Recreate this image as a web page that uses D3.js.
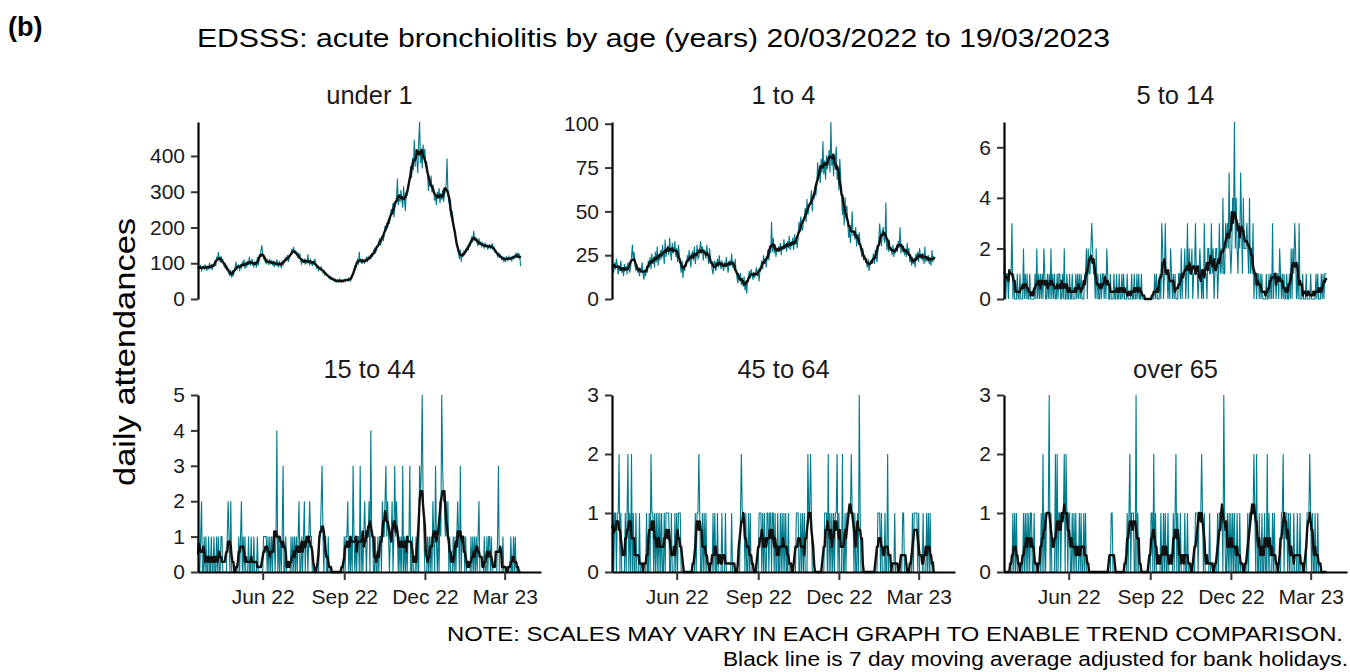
<!DOCTYPE html>
<html>
<head>
<meta charset="utf-8">
<script src="https://cdn.jsdelivr.net/npm/d3@7"></script>
<style>
  body { margin: 0; background: #fff; }
  svg { display: block; font-family: "Liberation Sans", Arial, sans-serif; }
</style>
</head>
<body>
<script>
/* daily EDSSS attendances, 20/03/2022 .. 19/03/2023 (365 days, one row per week) */

const startDate = new Date(Date.UTC(2022, 2, 20));

const panelNames = ["under 1", "1 to 4", "5 to 14", "15 to 44", "45 to 64", "over 65"];

const under1 = [
  92, 84, 88, 95, 80, 86, 91,
  83, 97, 88, 79, 90, 85, 102,
  86, 93, 81, 98, 89, 105, 92,
  118, 108, 131, 114, 102, 120, 106,
  110, 97, 88, 100, 84, 93, 79,
  72, 64, 81, 60, 70, 66, 77,
  92, 104, 81, 89, 97, 78, 95,
  88, 102, 96, 110, 85, 97, 91,
  107, 96, 118, 93, 101, 112, 95,
  90, 104, 99, 88, 117, 94, 108,
  121, 135, 150, 127, 113, 118, 102,
  99, 111, 104, 95, 112, 100, 106,
  97, 107, 89, 102, 96, 111, 93,
  90, 104, 99, 86, 108, 95, 102,
  106, 118, 110, 123, 104, 115, 120,
  126, 140, 131, 145, 128, 136, 124,
  119, 130, 112, 127, 105, 98, 110,
  104, 112, 96, 108, 99, 125, 101,
  96, 110, 104, 92, 107, 100, 113,
  95, 86, 91, 80, 88, 84, 90,
  82, 73, 79, 68, 74, 70, 66,
  64, 58, 62, 55, 60, 57, 52,
  50, 55, 48, 53, 47, 51, 56,
  49, 46, 52, 48, 55, 50, 53,
  55, 51, 58, 54, 50, 56, 60,
  68, 77, 95, 88, 103, 110, 96,
  132, 102, 109, 98, 112, 104, 100,
  108, 115, 103, 117, 110, 122, 112,
  125, 118, 133, 140, 127, 136, 145,
  150, 158, 171, 149, 165, 178, 162,
  182, 205, 193, 212, 198, 224, 210,
  231, 252, 240, 268, 229, 255, 262,
  285, 337, 262, 290, 271, 305, 280,
  255, 315, 278, 246, 300, 288, 312,
  320, 345, 372, 338, 395, 360, 446,
  370, 420, 386, 352, 440, 495, 380,
  410, 365, 432, 398, 420, 370, 385,
  350, 302, 338, 314, 345, 298, 320,
  306, 275, 292, 262, 300, 281, 310,
  268, 296, 278, 305, 272, 288, 300,
  320, 393, 295, 270, 262, 240, 228,
  245, 212, 198, 180, 165, 150, 140,
  128, 112, 138, 104, 126, 118, 132,
  125, 140, 131, 148, 136, 155, 150,
  160, 176, 158, 190, 168, 172, 165,
  155, 148, 170, 152, 161, 144, 158,
  150, 141, 158, 145, 153, 138, 149,
  152, 140, 148, 156, 139, 145, 132,
  135, 128, 120, 130, 115, 124, 118,
  110, 117, 106, 114, 104, 120, 111,
  108, 119, 112, 116, 105, 121, 113,
  117, 125, 114, 130, 119, 127, 122,
  92
];

const age1to4 = [
  22, 18, 15, 21, 17, 23, 19,
  14, 19, 16, 22, 15, 18, 13,
  20, 16, 19, 14, 21, 17, 15,
  18, 24, 31, 22, 27, 19, 16,
  20, 15, 18, 13, 17, 16, 21,
  14, 11, 17, 13, 19, 15, 22,
  19, 24, 17, 26, 20, 23, 18,
  27, 21, 30, 19, 25, 22, 28,
  23, 31, 26, 20, 34, 24, 29,
  30, 25, 35, 27, 22, 32, 26,
  28, 33, 24, 29, 21, 31, 25,
  20, 15, 22, 12, 18, 16, 21,
  19, 25, 21, 28, 23, 18, 26,
  27, 22, 30, 20, 25, 31, 23,
  24, 29, 33, 26, 30, 22, 28,
  27, 23, 31, 25, 20, 29, 24,
  21, 17, 14, 19, 22, 16, 18,
  23, 18, 25, 20, 17, 22, 19,
  16, 21, 18, 24, 19, 15, 20,
  22, 19, 26, 18, 21, 17, 23,
  16, 12, 9, 14, 11, 15, 8,
  12, 7, 13, 5, 10, 3, 11,
  13, 16, 12, 17, 14, 11, 15,
  12, 15, 18, 13, 16, 10, 17,
  19, 22, 17, 25, 20, 23, 18,
  24, 28, 22, 30, 26, 44, 27,
  35, 26, 31, 24, 29, 27, 30,
  27, 32, 25, 30, 28, 34, 29,
  31, 27, 33, 29, 36, 28, 32,
  30, 35, 28, 37, 31, 34, 29,
  36, 44, 38, 47, 41, 39, 45,
  46, 52, 44, 57, 48, 51, 55,
  55, 62, 50, 60, 57, 64, 59,
  65, 78, 70, 74, 66, 80, 72,
  90, 71, 79, 68, 82, 74, 78,
  85, 72, 101, 76, 83, 70, 81,
  78, 87, 68, 74, 62, 80, 70,
  60, 48, 55, 42, 58, 50, 53,
  44, 35, 40, 32, 38, 50, 36,
  39, 34, 41, 30, 37, 33, 38,
  31, 27, 24, 29, 22, 25, 23,
  21, 18, 23, 16, 19, 22, 20,
  22, 26, 20, 28, 24, 21, 27,
  33, 43, 37, 30, 38, 41, 34,
  32, 55, 28, 34, 27, 30, 29,
  29, 25, 31, 24, 28, 26, 30,
  27, 33, 29, 41, 26, 31, 28,
  30, 25, 28, 24, 32, 26, 29,
  21, 25, 19, 24, 20, 23, 18,
  26, 22, 27, 21, 29, 24, 25,
  22, 26, 20, 30, 21, 24, 23,
  25, 20, 23, 19, 28, 21, 24,
  23
];

// small counts, one digit per day, one string per week
const age5to14 = [
  "1201101", "1130100", "0100100", "0201010", "0100000", "1020101", "0102100",
  "1010201", "0100101", "1001020", "0100100", "1000101", "0101000", "1120211",
  "2321102", "0100101", "1010210", "0100010", "0100100", "1010001", "0000100",
  "1001010", "0100000", "0000000", "0010100", "0103201", "3110102", "1010100",
  "0110201", "1201302", "1120113", "1101210", "1031102", "2113120", "1220131",
  "2141132", "3252124", "3724213", "2531422", "2321412", "1301101", "1010100",
  "0010010", "1030110", "1102101", "0100100", "1020213", "2010300", "0100010",
  "0001000", "0010100", "0101011", "1"
].join("").split("").map(Number);

const age15to44 = [
  "1001200", "1010010", "0100100", "1010011", "0000012", "1020000", "0000101",
  "2010100", "0100100", "1000100", "0000111", "1010101", "0110140", "1010130",
  "0100000", "1010101", "0120010", "1201101", "2110000", "0000112", "3101100",
  "1000000", "0000000", "0000101", "1201010", "3101011", "0301012", "1011204",
  "1100100", "1011021", "1231210", "1120131", "2101010", "3010101", "1300100",
  "0101032", "3521000", "1010102", "1031010", "2153221", "2120100", "0101012",
  "1030111", "0100000", "1010101", "0120000", "0100101", "1010000", "0013000",
  "0100000", "0001001", "0100000", "0"
].join("").split("").map(Number);

const age45to64 = [
  "1101101", "1201000", "0101201", "0201001", "0001000", "0000100", "1021101",
  "0101010", "1001011", "1100100", "0101011", "1000000", "0000000", "0001011",
  "2100101", "0100000", "0010100", "1000010", "0010000", "0010000", "0000012",
  "1110100", "1010000", "0000011", "1010100", "1101101", "1010010", "0101010",
  "1001000", "0000011", "1001010", "1000211", "2100000", "0000000", "0011102",
  "0101010", "1120100", "0200101", "1111211", "0100103", "1000000", "0000000",
  "0000001", "1101000", "1002000", "0000100", "0000001", "1000000", "0001011",
  "1101000", "0100010", "1010000", "0"
].join("").split("").map(Number);

const over65 = [
  "0000000", "0001010", "1000000", "0101010", "1011001", "0000000", "1020101",
  "1130100", "0020201", "1011120", "2101100", "1010100", "0101001", "0100000",
  "0000000", "0000000", "0000000", "0011000", "0000000", "0000001", "0120111",
  "0030100", "0000000", "0000011", "0201000", "0010010", "1001000", "0010120",
  "1001000", "0100100", "0000001", "1101112", "1010000", "0100000", "0001011",
  "1103100", "1010101", "0100100", "1000000", "0010111", "1121020", "0100100",
  "1002010", "0010100", "0000011", "2011101", "0100010", "0010010", "0000001",
  "1121010", "0100100", "0000000", "0"
].join("").split("").map(Number);

const series = [under1, age1to4, age5to14, age15to44, age45to64, over65];

const yTicks = [
  [0, 100, 200, 300, 400],
  [0, 25, 50, 75, 100],
  [0, 2, 4, 6],
  [0, 1, 2, 3, 4, 5],
  [0, 1, 2, 3],
  [0, 1, 2, 3]
];

const xTickDates = ["2022-06-01", "2022-09-01", "2022-12-01", "2023-03-01"];
const xTickLabels = ["Jun 22", "Sep 22", "Dec 22", "Mar 23"];

// layout
const width = 1350, height = 672;
const colX = [198, 612, 1004];
const rowZero = [299, 572];
const panelW = 343, panelH = 177;
const teal = "#007b8c";

const svg = d3.select("body").append("svg")
    .attr("width", width)
    .attr("height", height);

const x = d3.scaleUtc()
    .domain([startDate, d3.utcDay.offset(startDate, 387)])
    .range([0, panelW]);

const tickDates = xTickDates.map(s => d3.utcParse("%Y-%m-%d")(s));

series.forEach(function(vals, i) {
  const col = i % 3, row = Math.floor(i / 3);
  const g = svg.append("g")
      .attr("transform", "translate(" + colX[col] + "," + (rowZero[row] - panelH) + ")");

  const y = d3.scaleLinear()
      .domain([0, d3.max(vals)])
      .range([panelH, 0]);

  const pts = vals.map((v, k) => ({date: d3.utcDay.offset(startDate, k), v: v}));
  // centred 7 day moving average
  const ma = vals.map((v, k) => ({
    date: d3.utcDay.offset(startDate, k),
    v: d3.mean(vals.slice(Math.max(0, k - 3), k + 4))
  }));

  const line = d3.line()
      .x(d => x(d.date))
      .y(d => y(d.v));

  g.append("path")
      .datum(pts)
      .attr("fill", "none")
      .attr("stroke", teal)
      .attr("stroke-width", 1.1)
      .attr("d", line);

  g.append("path")
      .datum(ma)
      .attr("fill", "none")
      .attr("stroke", "#111")
      .attr("stroke-width", 2.4)
      .attr("stroke-linejoin", "round")
      .attr("d", line);

  g.append("g")
      .call(d3.axisLeft(y)
          .tickValues(yTicks[i])
          .tickFormat(d3.format("d"))
          .tickSize(7).tickPadding(6).tickSizeOuter(0));

  if (row === 1) {
    g.append("g")
        .attr("transform", "translate(0," + panelH + ")")
        .call(d3.axisBottom(x)
            .tickValues(tickDates)
            .tickFormat((d, k) => xTickLabels[k])
            .tickSize(8).tickPadding(9).tickSizeOuter(0));
  }

  g.selectAll(".domain").attr("stroke", "#000").attr("stroke-width", 2.2);
  g.selectAll(".tick line").attr("stroke", "#333").attr("stroke-width", 2);
  g.selectAll(".tick text").attr("fill", "#1a1a1a").attr("font-size", 21);

  g.append("text")
      .attr("x", panelW / 2)
      .attr("y", row === 0 ? 104 - (rowZero[0] - panelH) : 378 - (rowZero[1] - panelH))
      .attr("text-anchor", "middle")
      .attr("font-size", 25.5)
      .attr("fill", "#1a1a1a")
      .text(panelNames[i]);
});

// headings and notes
svg.append("text")
    .attr("x", 8).attr("y", 36)
    .attr("font-size", 27).attr("font-weight", "bold")
    .text("(b)");

svg.append("text")
    .attr("x", 197).attr("y", 47)
    .attr("font-size", 25.5)
    .attr("textLength", 913).attr("lengthAdjust", "spacingAndGlyphs")
    .text("EDSSS: acute bronchiolitis by age (years) 20/03/2022 to 19/03/2023");

svg.append("text")
    .attr("transform", "translate(135,352) rotate(-90)")
    .attr("text-anchor", "middle")
    .attr("font-size", 29)
    .attr("textLength", 268).attr("lengthAdjust", "spacingAndGlyphs")
    .text("daily attendances");

svg.append("text")
    .attr("x", 1343).attr("y", 641)
    .attr("text-anchor", "end")
    .attr("font-size", 20)
    .attr("textLength", 896).attr("lengthAdjust", "spacingAndGlyphs")
    .text("NOTE: SCALES MAY VARY IN EACH GRAPH TO ENABLE TREND COMPARISON.");

svg.append("text")
    .attr("x", 1348).attr("y", 666)
    .attr("text-anchor", "end")
    .attr("font-size", 20)
    .attr("textLength", 625).attr("lengthAdjust", "spacingAndGlyphs")
    .text("Black line is 7 day moving average adjusted for bank holidays.");
</script>
</body>
</html>
